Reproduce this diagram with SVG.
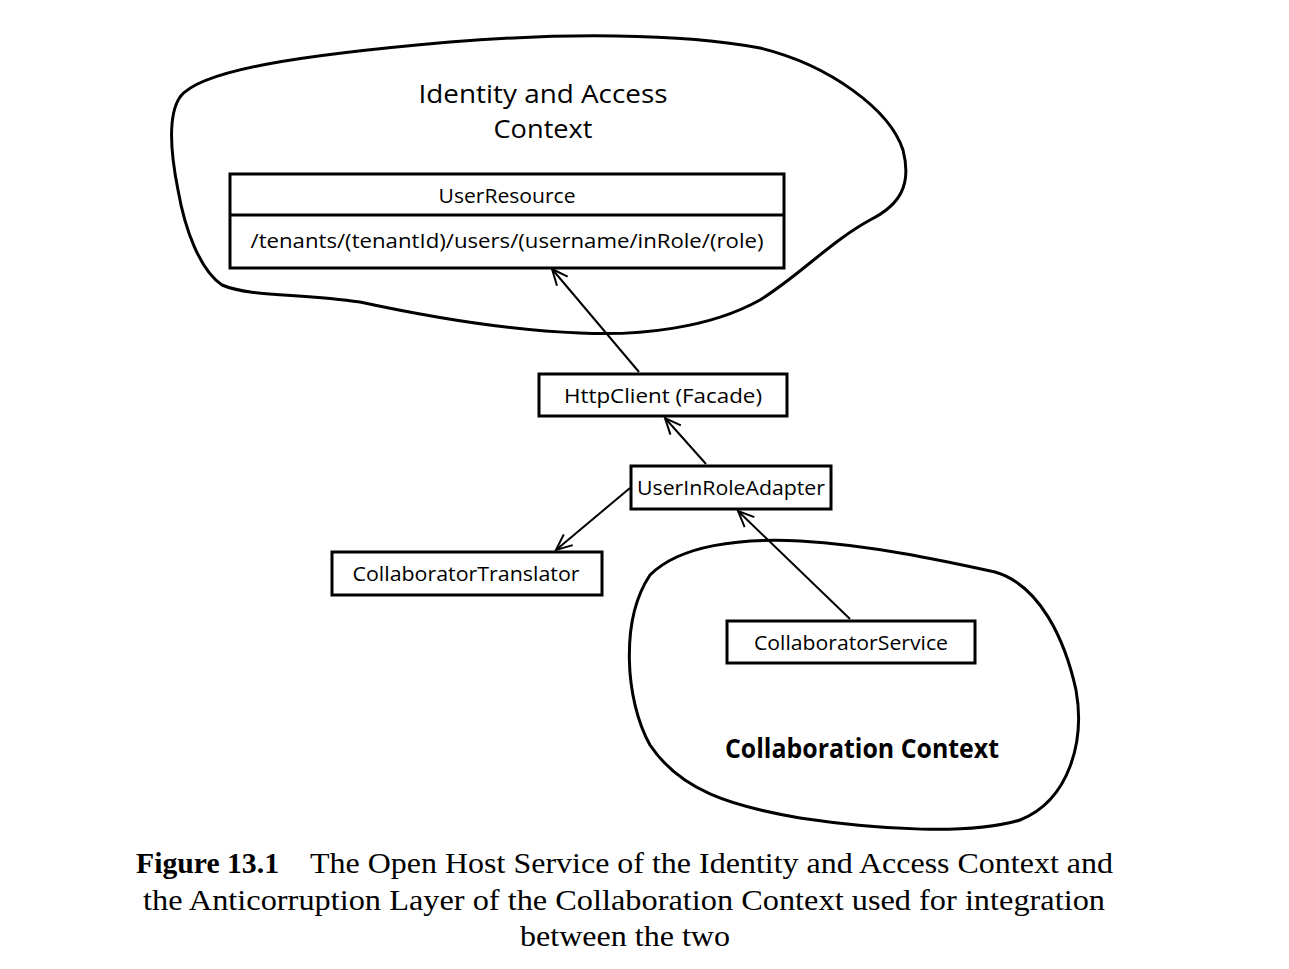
<svg xmlns="http://www.w3.org/2000/svg" width="1289" height="969" viewBox="0 0 1289 969">
<defs>
<marker id="open" viewBox="0 0 20 20" refX="18" refY="10" markerWidth="20" markerHeight="20" markerUnits="userSpaceOnUse" orient="auto">
<path d="M2,3 L18,10 L2,17" fill="none" stroke="#000" stroke-width="2"/>
</marker>
<style>
.blob{fill:none;stroke:#000;stroke-width:3}
.box{fill:#fff;stroke:#000;stroke-width:3}
.t{font-family:"Open Sans","DejaVu Sans",sans-serif;font-size:20px;font-weight:500;fill:#000;text-anchor:middle}
.h{font-family:"Open Sans","DejaVu Sans",sans-serif;font-size:26px;font-weight:500;fill:#000;text-anchor:middle}
.hb{font-family:"Open Sans","DejaVu Sans",sans-serif;font-size:26px;font-weight:bold;fill:#000;text-anchor:middle}
.c{font-family:"Liberation Serif","Times New Roman",serif;font-size:29px;fill:#000}
.cb{font-family:"Liberation Serif","Times New Roman",serif;font-size:29px;font-weight:bold;fill:#000}
.conn{stroke:#000;stroke-width:2;fill:none}
</style>
</defs>
<rect width="1289" height="969" fill="#fff"/>
<g id="identity-context">
<path class="blob" d="M180,97 C200,70 300,55 450,42 C560,33 680,33 760,48 C830,65 890,110 903,150 C912,185 900,205 870,220 C830,242 800,275 760,300 C710,328 640,336 580,333 C500,330 420,315 360,302 C300,293 250,297 222,285 C200,270 185,230 178,190 C170,150 168,115 180,97 Z"/>
<text class="h" x="543" y="103" textLength="249" lengthAdjust="spacingAndGlyphs">Identity and Access</text>
<text class="h" x="543" y="138" textLength="99" lengthAdjust="spacingAndGlyphs">Context</text>
</g>
<g id="collaboration-context">
<path class="blob" d="M650,575 C680,545 740,538 800,541 C870,545 940,560 995,572 C1040,585 1065,640 1076,690 C1085,740 1070,800 1020,820 C970,835 880,830 800,818 C730,806 680,790 650,745 C625,700 620,620 650,575 Z"/>
<text class="hb" x="862" y="758" textLength="274" lengthAdjust="spacingAndGlyphs">Collaboration Context</text>
</g>
<g id="user-resource">
<rect class="box" x="230" y="174" width="554" height="94"/>
<line x1="230" y1="215" x2="784" y2="215" stroke="#000" stroke-width="3"/>
<text class="t" x="507" y="203" textLength="137" lengthAdjust="spacingAndGlyphs">UserResource</text>
<text class="t" x="507" y="248" textLength="513" lengthAdjust="spacingAndGlyphs">/tenants/(tenantId)/users/(username/inRole/(role)</text>
</g>
<g id="http-client">
<rect class="box" x="539" y="374" width="248" height="42"/>
<text class="t" x="663" y="403" textLength="198" lengthAdjust="spacingAndGlyphs">HttpClient (Facade)</text>
</g>
<g id="user-in-role-adapter">
<rect class="box" x="631" y="466" width="200" height="43"/>
<text class="t" x="731" y="495" textLength="188" lengthAdjust="spacingAndGlyphs">UserInRoleAdapter</text>
</g>
<g id="collaborator-translator">
<rect class="box" x="332" y="552" width="270" height="43"/>
<text class="t" x="466" y="581" textLength="227" lengthAdjust="spacingAndGlyphs">CollaboratorTranslator</text>
</g>
<g id="collaborator-service">
<rect class="box" x="727" y="621" width="248" height="42"/>
<text class="t" x="851" y="650" textLength="194" lengthAdjust="spacingAndGlyphs">CollaboratorService</text>
</g>
<g id="connectors">
<line class="conn" x1="639" y1="372" x2="552" y2="269" marker-end="url(#open)"/>
<line class="conn" x1="706" y1="464" x2="665" y2="418" marker-end="url(#open)"/>
<line class="conn" x1="630" y1="488" x2="556" y2="550" marker-end="url(#open)"/>
<line class="conn" x1="850" y1="619" x2="738" y2="511" marker-end="url(#open)"/>
</g>
<g id="caption">
<text class="cb" x="136" y="873" textLength="143" lengthAdjust="spacingAndGlyphs">Figure 13.1</text>
<text class="c" x="310" y="873" textLength="803" lengthAdjust="spacingAndGlyphs">The Open Host Service of the Identity and Access Context and</text>
<text class="c" x="143" y="910" textLength="962" lengthAdjust="spacingAndGlyphs">the Anticorruption Layer of the Collaboration Context used for integration</text>
<text class="c" x="520" y="946" textLength="210" lengthAdjust="spacingAndGlyphs">between the two</text>
</g>
</svg>
